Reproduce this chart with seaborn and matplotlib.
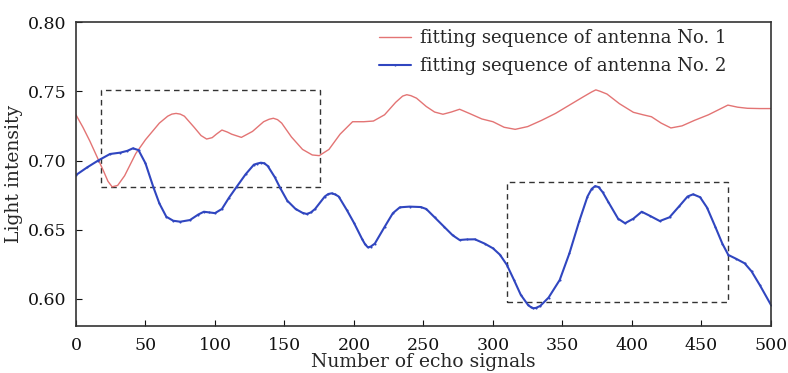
import numpy as np
import pandas as pd
import matplotlib
matplotlib.use("Agg")
import matplotlib.pyplot as plt
from matplotlib.patches import Rectangle
import seaborn as sns

# ---- data ----
red_x = [0, 5, 10, 15, 20, 23, 26, 30, 35, 43, 50, 60, 66, 69, 72, 75, 78, 85, 90, 94, 98, 101,
         105, 109, 112, 119, 127, 135, 139, 142, 145, 148, 155, 163, 170, 175, 182, 190, 199,
         207, 214, 222, 230, 235, 238, 241, 245, 252, 258, 264, 270, 276, 283, 292, 300, 308,
         316, 325, 335, 345, 355, 365, 371, 374, 377, 382, 391, 401, 408, 414, 421, 428, 436,
         445, 455, 463, 469, 476, 483, 492, 500]
red_y = [0.733, 0.724, 0.714, 0.703, 0.692, 0.685, 0.681, 0.682, 0.689, 0.705, 0.715, 0.727,
         0.732, 0.7335, 0.734, 0.7335, 0.732, 0.724, 0.718, 0.7155, 0.7165, 0.719, 0.722,
         0.7205, 0.719, 0.7167, 0.721, 0.728, 0.7298, 0.7305, 0.7295, 0.727, 0.717, 0.708,
         0.704, 0.7035, 0.708, 0.719, 0.728, 0.728, 0.7285, 0.733, 0.742, 0.7465, 0.7475,
         0.7468, 0.745, 0.739, 0.735, 0.7334, 0.735, 0.737, 0.734, 0.730, 0.728, 0.724, 0.7225,
         0.7245, 0.729, 0.734, 0.740, 0.746, 0.7495, 0.751, 0.750, 0.748, 0.741, 0.7348,
         0.733, 0.7316, 0.727, 0.7235, 0.725, 0.729, 0.733, 0.737, 0.740, 0.7385, 0.7377,
         0.7375, 0.7375]

blue_x = [0, 8, 16, 24.5, 32, 37, 41, 45, 50, 55.6, 60, 65, 70, 75, 82, 88, 92, 96, 100, 105,
          110, 115.6, 122, 128, 130.5, 133, 135.5, 138, 143, 147, 152, 158, 163, 166, 169, 172,
          179, 181.5, 184, 186.5, 189, 195, 200, 206, 208, 210, 212, 215, 222, 228, 233, 240,
          248, 252, 258, 265, 271, 276, 281, 287, 294, 300, 305, 310, 315, 320, 325, 327, 329,
          331, 334, 340, 348, 355, 362, 368, 371, 373.5, 376, 379, 383, 390, 395, 401, 407,
          413, 420, 427, 434, 440, 444, 449, 454, 460, 465, 469.3, 475, 481, 486, 492, 500]
blue_y = [0.6895, 0.695, 0.700, 0.7047, 0.7057, 0.707, 0.7088, 0.7075, 0.698, 0.681, 0.669,
          0.6594, 0.6565, 0.6558, 0.657, 0.661, 0.663, 0.6625, 0.662, 0.665, 0.673, 0.681,
          0.690, 0.697, 0.6978, 0.6984, 0.698, 0.696, 0.688, 0.680, 0.671, 0.665, 0.6622,
          0.6614, 0.6625, 0.665, 0.674, 0.6758, 0.6763, 0.6755, 0.674, 0.664, 0.655, 0.643,
          0.6395, 0.6373, 0.6378, 0.640, 0.652, 0.662, 0.6662, 0.6667, 0.6664, 0.665, 0.659,
          0.652, 0.646, 0.6426, 0.643, 0.6431, 0.640, 0.6366, 0.632, 0.6246, 0.614, 0.603,
          0.596, 0.5943, 0.5933, 0.5936, 0.595, 0.601, 0.6137, 0.633, 0.656, 0.674, 0.6795,
          0.6815, 0.6808, 0.677, 0.670, 0.658, 0.6547, 0.658, 0.663, 0.660, 0.6563, 0.659,
          0.667, 0.674, 0.6756, 0.6735, 0.666, 0.652, 0.640, 0.6318, 0.629, 0.6258, 0.620,
          0.610, 0.5957]

series_names = ["fitting sequence of antenna No. 1", "fitting sequence of antenna No. 2"]

# highlighted regions: (x0, x1, y0, y1)
box_regions = [(18, 175.5, 0.681, 0.751), (310, 469, 0.598, 0.6845)]

x_ticks = [0, 50, 100, 150, 200, 250, 300, 350, 400, 450, 500]
y_ticks = [0.60, 0.65, 0.70, 0.75, 0.80]

# ---- build table ----
df = pd.concat([
    pd.DataFrame({"x": red_x, "y": red_y, "series": series_names[0]}),
    pd.DataFrame({"x": blue_x, "y": blue_y, "series": series_names[1]}),
], ignore_index=True)

sns.set_style("ticks")
plt.rcParams["font.family"] = ["DejaVu Serif"]
plt.rcParams["mathtext.fontset"] = "dejavuserif"

fig = plt.figure(figsize=(7.88, 3.73), dpi=100)
ax = fig.add_axes([0.0964, 0.126, 0.882, 0.815])

palette = {series_names[0]: "#e37474", series_names[1]: "#3046c0"}
sns.lineplot(data=df[df.series == series_names[0]], x="x", y="y", hue="series",
             palette=palette, ax=ax, linewidth=1.0, legend=True)
sns.lineplot(data=df[df.series == series_names[1]], x="x", y="y", hue="series",
             palette=palette, ax=ax, linewidth=1.5, marker="o", markersize=1.5,
             markeredgewidth=0, legend=True)

for (x0, x1, y0, y1) in box_regions:
    ax.add_patch(Rectangle((x0, y0), x1 - x0, y1 - y0, fill=False, edgecolor="#333333",
                           linewidth=1.0, linestyle=(0, (4, 3))))

ax.set_xlim(0, 500)
ax.set_ylim(0.5805, 0.80)
ax.set_xticks(x_ticks)
ax.set_yticks(y_ticks)
ax.set_yticklabels([f"{v:.2f}" for v in y_ticks])
ax.tick_params(direction="in", length=4, width=0.8, labelsize=12.5, colors="#111111")
ax.tick_params(axis="x", pad=8)
ax.tick_params(axis="y", pad=7)
for s in ax.spines.values():
    s.set_visible(True)
    s.set_linewidth(1.2)
    s.set_color("#333333")

ax.set_xlabel("Number of echo signals", fontsize=13.5, labelpad=-1)
ax.set_ylabel("Light intensity", fontsize=13.5, labelpad=3)

h, l = ax.get_legend_handles_labels()
ax.legend(h, l, loc="upper right", bbox_to_anchor=(0.96, 1.03), frameon=False,
          fontsize=13, handlelength=1.8, handletextpad=0.5, labelspacing=0.55)

fig.savefig("out.png", dpi=100)
